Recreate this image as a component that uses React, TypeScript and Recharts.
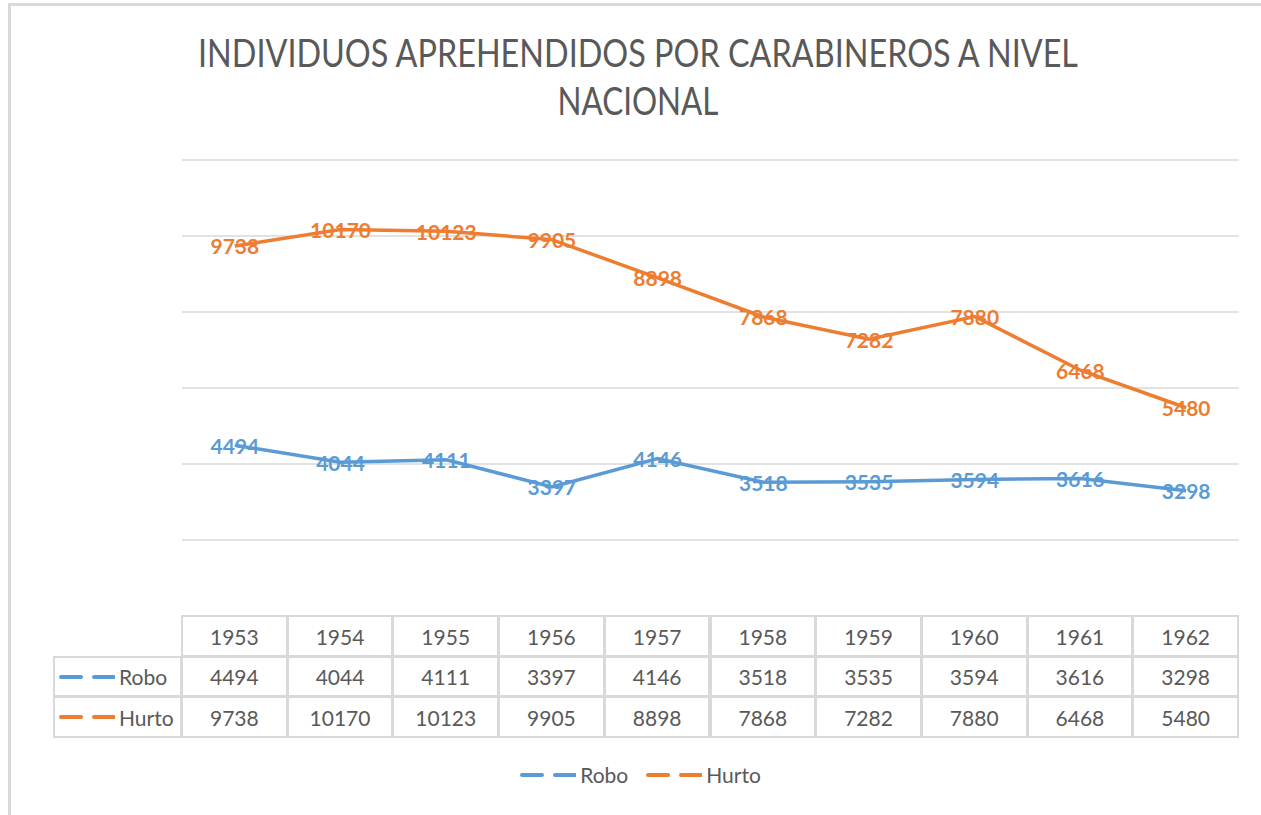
import { LineChart, Line, XAxis, YAxis, CartesianGrid, LabelList } from 'recharts';

const years = ['1953', '1954', '1955', '1956', '1957', '1958', '1959', '1960', '1961', '1962'];
const robo = [4494, 4044, 4111, 3397, 4146, 3518, 3535, 3594, 3616, 3298];
const hurto = [9738, 10170, 10123, 9905, 8898, 7868, 7282, 7880, 6468, 5480];
const yTicks = [0, 2000, 4000, 6000, 8000, 10000, 12000];
const titleLines = ['INDIVIDUOS APREHENDIDOS POR CARABINEROS A NIVEL', 'NACIONAL'];

const series = [
  { key: 'robo', name: 'Robo', color: '#5B9BD5', values: robo },
  { key: 'hurto', name: 'Hurto', color: '#ED7D31', values: hurto },
];

const data = years.map((year, i) => ({ year, robo: robo[i], hurto: hurto[i] }));

const FONT = 'Lato, "Open Sans", sans-serif';
const TEXT = '#595959';
const GRID = '#D9D9D9';

// plot area / table geometry
const W = 1261;
const H = 815;
const PLOT_LEFT = 182;
const PLOT_RIGHT = 1239;
const PLOT_TOP = 160;
const PLOT_BOTTOM = 616;
const COL_W = (PLOT_RIGHT - PLOT_LEFT) / years.length;
const ROW_TOPS = [616, 657, 697];
const ROW_H = [41, 40, 41];
const KEY_LEFT = 54;

const Key = ({ color }: { color: string }) => (
  <svg width={56} height={6} style={{ display: 'inline-block', marginRight: 4 }}>
    <line x1={2} y1={3} x2={22} y2={3} stroke={color} strokeWidth={4} strokeLinecap="round" />
    <line x1={35} y1={3} x2={55} y2={3} stroke={color} strokeWidth={4} strokeLinecap="round" />
  </svg>
);

const cell = (left: number, top: number, width: number, height: number): React.CSSProperties => ({
  position: 'absolute',
  left,
  top,
  width,
  height,
  boxSizing: 'border-box',
  border: `2px solid ${GRID}`,
  marginLeft: -1,
  marginTop: -1,
  display: 'flex',
  alignItems: 'center',
  justifyContent: 'center',
  fontFamily: FONT,
  fontSize: 21,
  color: TEXT,
});

export default function App() {
  return (
    <div style={{ position: 'absolute', left: 0, top: 0, width: W, height: H, background: '#fff', overflow: 'hidden' }}>
      <div
        style={{
          position: 'absolute',
          left: 8,
          top: 3,
          width: W,
          height: H,
          borderTop: `3px solid ${GRID}`,
          borderLeft: `3px solid ${GRID}`,
        }}
      />

      <svg width={W} height={H} style={{ position: 'absolute', left: 0, top: 0 }}>
        <text x={638} y={67} textAnchor="middle" fontFamily={FONT} fontWeight={400} fontSize={38} fill={TEXT}
          textLength={880} lengthAdjust="spacingAndGlyphs">
          {titleLines[0]}
        </text>
        <text x={638} y={115} textAnchor="middle" fontFamily={FONT} fontWeight={400} fontSize={38} fill={TEXT}
          textLength={161} lengthAdjust="spacingAndGlyphs">
          {titleLines[1]}
        </text>
      </svg>

      <div style={{ position: 'absolute', left: 0, top: 0 }}>
        <LineChart
          width={W}
          height={H}
          data={data}
          margin={{ top: PLOT_TOP, right: W - PLOT_RIGHT, bottom: H - PLOT_BOTTOM, left: PLOT_LEFT }}
        >
          <CartesianGrid vertical={false} stroke={GRID} strokeWidth={1.5} />
          <XAxis dataKey="year" hide scale="point" padding={{ left: COL_W / 2, right: COL_W / 2 }} />
          <YAxis hide domain={[0, 12000]} ticks={yTicks} />
          {series.map((s) => (
            <Line
              key={s.key}
              dataKey={s.key}
              name={s.name}
              stroke={s.color}
              strokeWidth={3.5}
              dot={false}
              isAnimationActive={false}
            >
              <LabelList
                dataKey={s.key}
                position="center"
                offset={0}
                dy={1}
                fill={s.color}
                fontSize={21}
                fontWeight="bold"
                fontFamily={FONT}
              />
            </Line>
          ))}
        </LineChart>
      </div>

      {/* data table */}
      {years.map((y, i) => (
        <div key={`y-${y}`} style={cell(PLOT_LEFT + i * COL_W, ROW_TOPS[0], COL_W + 1, ROW_H[0] + 1)}>
          {y}
        </div>
      ))}
      {series.map((s, r) => (
        <div key={`k-${s.key}`} style={{ ...cell(KEY_LEFT, ROW_TOPS[r + 1], PLOT_LEFT - KEY_LEFT + 1, ROW_H[r + 1] + 1), justifyContent: 'flex-start', paddingLeft: 4 }}>
          <Key color={s.color} />
          {s.name}
        </div>
      ))}
      {series.map((s, r) =>
        s.values.map((v, i) => (
          <div key={`${s.key}-${i}`} style={cell(PLOT_LEFT + i * COL_W, ROW_TOPS[r + 1], COL_W + 1, ROW_H[r + 1] + 1)}>
            {v}
          </div>
        ))
      )}

      {/* legend */}
      <div
        style={{
          position: 'absolute',
          left: 0,
          top: 762,
          width: W,
          display: 'flex',
          justifyContent: 'center',
          alignItems: 'center',
          gap: 18,
          fontFamily: FONT,
          fontSize: 21,
          color: TEXT,
          paddingLeft: 10,
        }}
      >
        {series.map((s) => (
          <div key={`l-${s.key}`} style={{ display: 'flex', alignItems: 'center' }}>
            <Key color={s.color} />
            {s.name}
          </div>
        ))}
      </div>
    </div>
  );
}
